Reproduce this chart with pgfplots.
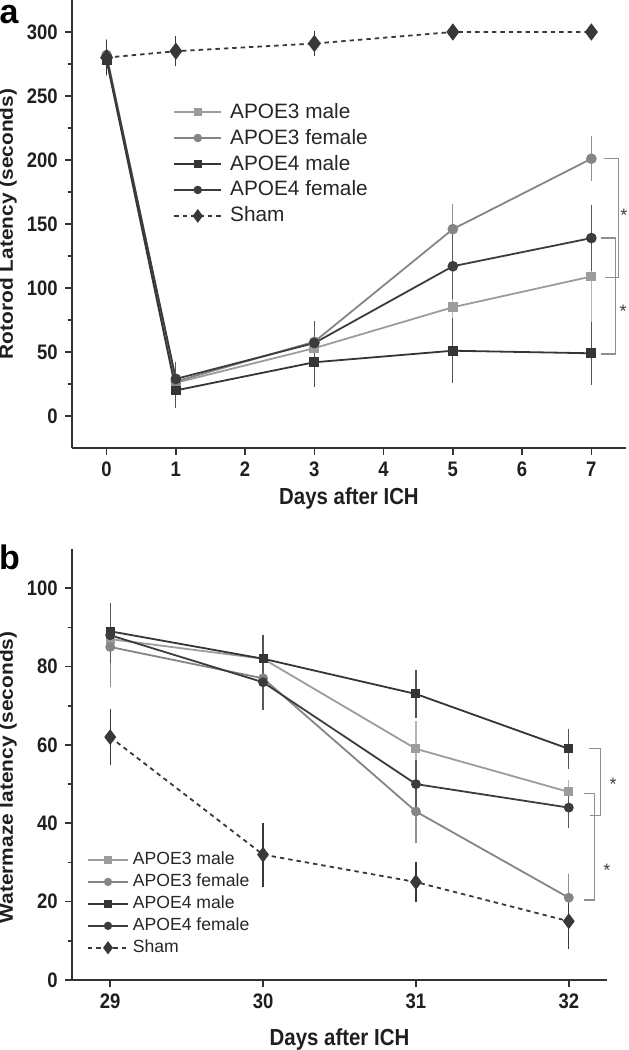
\documentclass[border=0pt]{standalone}
\usepackage{fontspec}
\setmainfont{Liberation Sans}
\newfontfamily\narrowf{Liberation Sans}[FakeStretch=0.88]
\newfontfamily\widef{Liberation Sans}[FakeStretch=1.1]
\usepackage{pgfplots}
\pgfplotsset{compat=1.18}

\definecolor{axcol}{HTML}{333333}
\definecolor{emale}{HTML}{9C9C9C}
\definecolor{efemale}{HTML}{858585}
\definecolor{fmale}{HTML}{353535}
\definecolor{ffemale}{HTML}{3C3C3C}
\definecolor{shamcol}{HTML}{383838}
\definecolor{brk}{HTML}{8E8E8E}

\pgfplotsset{
  panel/.style={
    scale only axis,
    axis x line=bottom, axis y line=left,
    axis line style={-, draw=axcol, line width=1pt},
    tick align=outside,
    major tick length=3.6pt, minor tick length=2.2pt,
    every tick/.style={draw=axcol, line width=0.8pt},
    /pgf/number format/assume math mode=true,
    tick label style={font=\narrowf\bfseries\fontsize{10.5}{12}\selectfont, text=black!88},
    xlabel style={font=\narrowf\bfseries\fontsize{11.6}{13}\selectfont, anchor=center, text=black!88},
    ylabel style={font=\widef\bfseries\fontsize{9.5}{11}\selectfont, anchor=center, text=black!88},
    clip=false,
    legend cell align=left,
  },
  ebar/.style={error bars/y dir=both, error bars/y explicit,
    error bars/error bar style={line width=0.6pt, solid, draw=#1},
    error bars/error mark options={line width=0.6pt, mark size=2.25pt, solid, draw=#1}},
  s3m/.style={draw=emale, mark=square*, mark size=2pt, line width=0.9pt,
    mark options={draw=emale, fill=emale}, ebar=emale!75!white},
  s3f/.style={draw=efemale, mark=*, mark size=2.2pt, line width=0.9pt,
    mark options={draw=efemale, fill=efemale}, ebar=efemale!90!white},
  s4m/.style={draw=fmale, mark=square*, mark size=2pt, line width=0.9pt,
    mark options={draw=fmale, fill=fmale}, ebar=fmale!85!white},
  s4f/.style={draw=ffemale, mark=*, mark size=2.2pt, line width=0.9pt,
    mark options={draw=ffemale, fill=ffemale}, ebar=ffemale!85!white},
  ssh/.style={draw=shamcol, mark=diamond*, mark size=3.6pt, line width=0.9pt,
    dash pattern=on 2.2pt off 2pt, mark options={solid, draw=shamcol, fill=shamcol}, ebar=shamcol},
}

\begin{document}
\begin{tikzpicture}
\path[use as bounding box] (0,0) rectangle (314pt,-525pt);

% ---- panel a: rotorod ----
\begin{axis}[panel, at={(36pt,-224pt)}, anchor=south west,
  width=277pt, height=224pt,
  xmin=-0.5, xmax=7.5, ymin=-25, ymax=325,
  xtick={0,...,7}, ytick={0,50,...,300}, minor y tick num=1,
  xlabel={Days after ICH}, ylabel={Rotorod Latency (seconds)},
  xlabel style={at={(axis description cs:0.5,-0.1116)}},
  ylabel style={at={(axis description cs:-0.1155,0.5)}},
  legend style={at={(axis description cs:0.1823,0.771)}, anchor=north west,
    draw=none, fill=none, font=\fontsize{10.4}{12}\selectfont, text=black!85,
    inner sep=0pt, row sep=3.95pt, nodes={inner sep=0pt},
    /tikz/every odd column/.append style={column sep=4pt}},
  legend image code/.code={\draw[mark repeat=2, mark phase=2]
    plot coordinates {(0pt,0pt) (11.75pt,0pt) (23.5pt,0pt)};},
  legend image post style={every mark/.append style={scale=0.75}},
]
\addplot[s3m] coordinates {(0,278) +- (0,9) (1,26) +- (0,10) (3,53) +- (0,10) (5,85) +- (0,24) (7,109) +- (0,33)};
\addlegendentry{APOE3 male}
\addplot[s3f] coordinates {(0,282) +- (0,9) (1,27) +- (0,11) (3,58) +- (0,13) (5,146) +- (0,16) (7,201) +- (0,14)};
\addlegendentry{APOE3 female}
\addplot[s4m] coordinates {(0,278) +- (0,8) (1,20) +- (0,10) (3,42) +- (0,16) (5,51) +- (0,22) (7,49) +- (0,21)};
\addlegendentry{APOE4 male}
\addplot[s4f] coordinates {(0,280) +- (0,8) (1,29) +- (0,10) (3,57) +- (0,14) (5,117) +- (0,22) (7,139) +- (0,22)};
\addlegendentry{APOE4 female}
\addplot[ssh] coordinates {(0,280) +- (0,10) (1,285) +- (0,8) (3,291) +- (0,6) (5,300) +- (0,0) (7,300) +- (0,0)};
\addlegendentry{Sham}
\draw[brk, line width=0.6pt] (axis cs:7.18,201) -- (axis cs:7.39,201) -- (axis cs:7.39,108) -- (axis cs:7.19,108);
\draw[brk, line width=0.6pt] (axis cs:7.14,139) -- (axis cs:7.35,139) -- (axis cs:7.35,48.5) -- (axis cs:7.14,48.5);
\node[font=\fontsize{9}{9}\selectfont, text=black!75, inner sep=0pt] at (axis cs:7.47,157) {*};
\node[font=\fontsize{9}{9}\selectfont, text=black!75, inner sep=0pt] at (axis cs:7.46,82) {*};
\end{axis}

% ---- panel b: water maze ----
\begin{axis}[panel, at={(36pt,-490pt)}, anchor=south west,
  width=267.5pt, height=215.5pt,
  xmin=28.75, xmax=32.25, ymin=0, ymax=110,
  xtick={29,...,32}, ytick={0,20,...,100}, minor y tick num=1,
  xlabel={Days after ICH}, ylabel={Watermaze latency (seconds)},
  xlabel style={at={(axis description cs:0.5,-0.1369)}},
  ylabel style={at={(axis description cs:-0.1196,0.47)}},
  legend style={at={(axis description cs:0.0275,0.2977)}, anchor=north west,
    draw=none, fill=none, font=\fontsize{8.8}{10}\selectfont, text=black!85,
    inner sep=0pt, row sep=3.1pt, nodes={inner sep=0pt},
    /tikz/every odd column/.append style={column sep=2pt}},
  legend image code/.code={\draw[mark repeat=2, mark phase=2]
    plot coordinates {(0pt,0pt) (10pt,0pt) (20pt,0pt)};},
  legend image post style={every mark/.append style={scale=0.8}},
]
\addplot[s3m, mark size=1.8pt] coordinates {(29,87) +- (0,8) (30,82) +- (0,5) (31,59) +- (0,6) (32,48) +- (0,2)};
\addlegendentry{APOE3 male}
\addplot[s3f, mark size=2pt] coordinates {(29,85) +- (0,9) (30,77) +- (0,6) (31,43) +- (0,7) (32,21) +- (0,5)};
\addlegendentry{APOE3 female}
\addplot[s4m, mark size=1.8pt] coordinates {(29,89) +- (0,6) (30,82) +- (0,5) (31,73) +- (0,5) (32,59) +- (0,4)};
\addlegendentry{APOE4 male}
\addplot[s4f, mark size=2pt] coordinates {(29,88) +- (0,6) (30,76) +- (0,6) (31,50) +- (0,5) (32,44) +- (0,4)};
\addlegendentry{APOE4 female}
\addplot[ssh, mark size=3.2pt] coordinates {(29,62) +- (0,6) (30,32) +- (0,7) (31,25) +- (0,4) (32,15) +- (0,6)};
\addlegendentry{Sham}
\draw[brk, line width=0.6pt] (axis cs:32.13,59) -- (axis cs:32.21,59) -- (axis cs:32.21,42) -- (axis cs:32.14,42);
\draw[brk, line width=0.6pt] (axis cs:32.1,47.7) -- (axis cs:32.17,47.7) -- (axis cs:32.17,20.4) -- (axis cs:32.1,20.4);
\node[font=\fontsize{9}{9}\selectfont, text=black!75, inner sep=0pt] at (axis cs:32.29,50) {*};
\node[font=\fontsize{9}{9}\selectfont, text=black!75, inner sep=0pt] at (axis cs:32.25,28) {*};
\end{axis}

\node[font=\bfseries\fontsize{17}{17}\selectfont, inner sep=0pt] at (4.6pt,-7.5pt) {a};
\node[font=\bfseries\fontsize{17}{17}\selectfont, inner sep=0pt] at (4.75pt,-278.75pt) {b};
\end{tikzpicture}
\end{document}
